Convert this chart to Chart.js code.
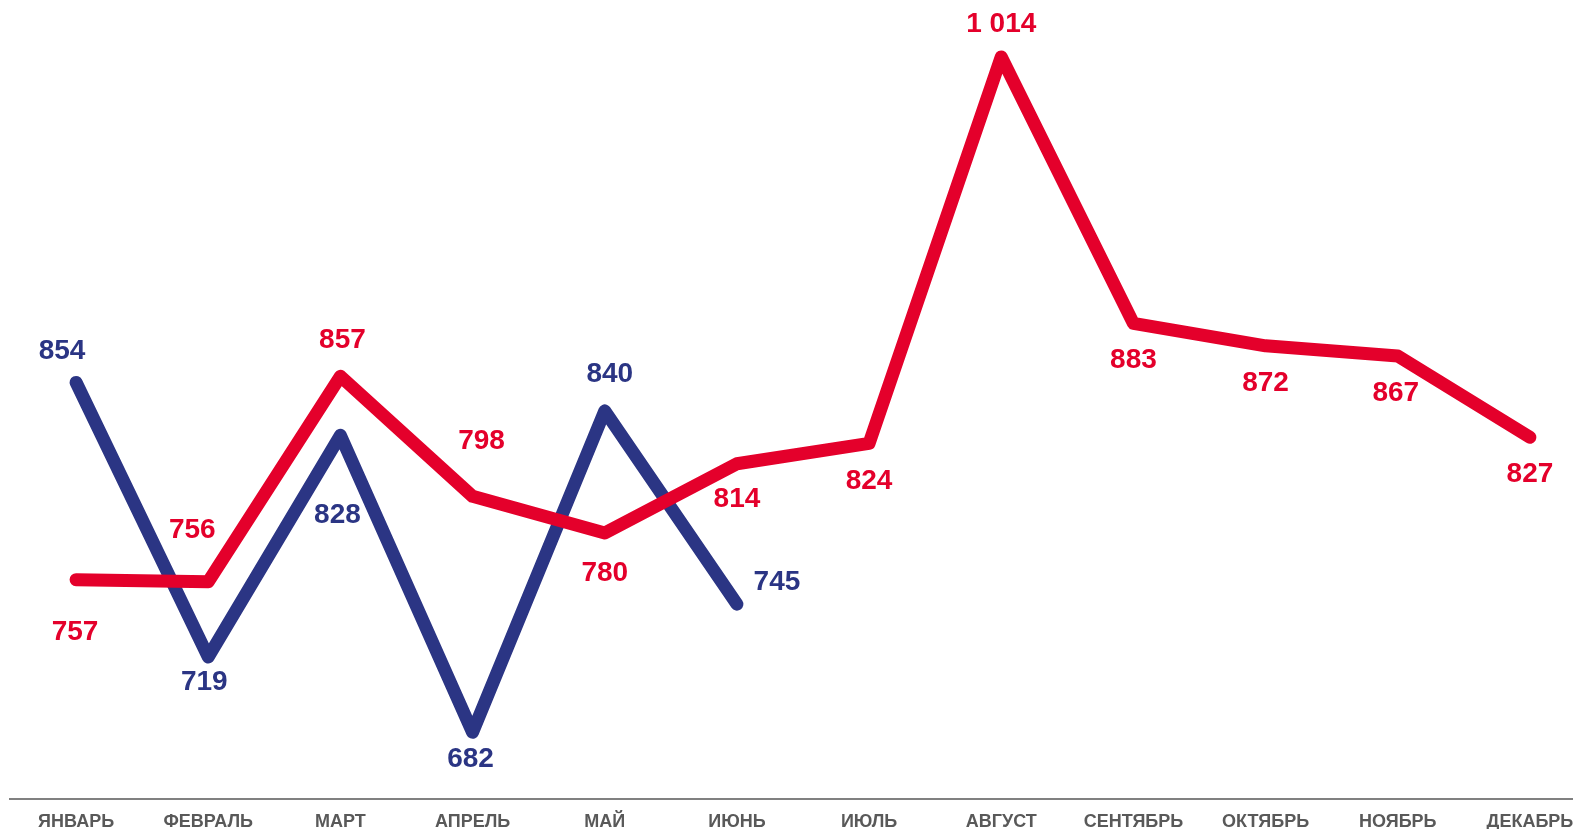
<!DOCTYPE html>
<html>
<head>
<meta charset="utf-8">
<script src="https://cdn.jsdelivr.net/npm/chart.js@4/dist/chart.umd.min.js"></script>
<style>
  html, body { margin: 0; padding: 0; background: #fff; overflow: hidden; }
  #wrap { position: relative; width: 1600px; height: 845px; }
</style>
</head>
<body>
<div id="wrap"><canvas id="chart"></canvas></div>
<script>
// months on the x axis
var months = ['ЯНВАРЬ', 'ФЕВРАЛЬ', 'МАРТ', 'АПРЕЛЬ', 'МАЙ', 'ИЮНЬ',
  'ИЮЛЬ', 'АВГУСТ', 'СЕНТЯБРЬ', 'ОКТЯБРЬ', 'НОЯБРЬ', 'ДЕКАБРЬ'];

// previous year (red), full year
var redValues = [757, 756, 857, 798, 780, 814, 824, 1014, 883, 872, 867, 827];

// current year (blue), only first half
var blueValues = [854, 719, 828, 682, 840, 745];

// where each value label sits relative to its point (px)
var redLabelDx = [-1, -16, 2, 9, 0, 0, 0, 0, 0, 0, -2, 0];
var redLabelDy = [53, -51, -36, -55, 40, 36, 38, -33, 37, 37, 37, 37];
var blueLabelDx = [-14, -4, -3, -2, 5, 40];
var blueLabelDy = [-31, 25, 80, 27, -37, -22];

var RED = '#E4002B';
var BLUE = '#2B3584';

function formatValue(v) {
  // space as thousands separator, like "1 014"
  return String(v).replace(/\B(?=(\d{3})+(?!\d))/g, ' ');
}

//
// Draws the number next to every point
//
var valueLabels = {
  id: 'valueLabels',
  afterDatasetsDraw: function (chart) {
    var ctx = chart.ctx;
    ctx.save();
    ctx.font = 'bold 28px "Liberation Sans", Arial, sans-serif';
    ctx.textAlign = 'center';
    ctx.textBaseline = 'middle';
    chart.data.datasets.forEach(function (ds, i) {
      var meta = chart.getDatasetMeta(i);
      ctx.fillStyle = ds.borderColor;
      meta.data.forEach(function (pt, j) {
        var dx = ds.labelDx[j] || 0;
        var dy = ds.labelDy[j] || 0;
        ctx.fillText(formatValue(ds.data[j]), pt.x + dx, pt.y + dy);
      });
    });
    ctx.restore();
  }
};

var ctx = document.getElementById('chart').getContext('2d');

new Chart(ctx, {
  type: 'line',
  data: {
    labels: months,
    datasets: [
      {
        data: redValues,
        borderColor: RED,
        borderWidth: 13,
        borderCapStyle: 'round',
        borderJoinStyle: 'round',
        pointRadius: 0,
        tension: 0,
        labelDx: redLabelDx,
        labelDy: redLabelDy
      },
      {
        data: blueValues,
        borderColor: BLUE,
        borderWidth: 13,
        borderCapStyle: 'round',
        borderJoinStyle: 'round',
        pointRadius: 0,
        tension: 0,
        labelDx: blueLabelDx,
        labelDy: blueLabelDy
      }
    ]
  },
  options: {
    responsive: true,
    maintainAspectRatio: false,
    animation: false,
    layout: { padding: { left: 10, right: 4, top: 0, bottom: 0 } },
    plugins: {
      legend: { display: false },
      tooltip: { enabled: false }
    },
    scales: {
      x: {
        offset: true,
        grid: { display: false, drawTicks: false },
        border: { display: true, color: '#808080', width: 2 },
        ticks: {
          color: '#595959',
          padding: 12,
          maxRotation: 0,
          autoSkip: false,
          font: { family: '"Liberation Sans", Arial, sans-serif', size: 18, weight: 'bold' }
        }
      },
      y: {
        display: false,
        min: 649,
        max: 1042
      }
    }
  },
  plugins: [valueLabels]
});
</script>
</body>
</html>
